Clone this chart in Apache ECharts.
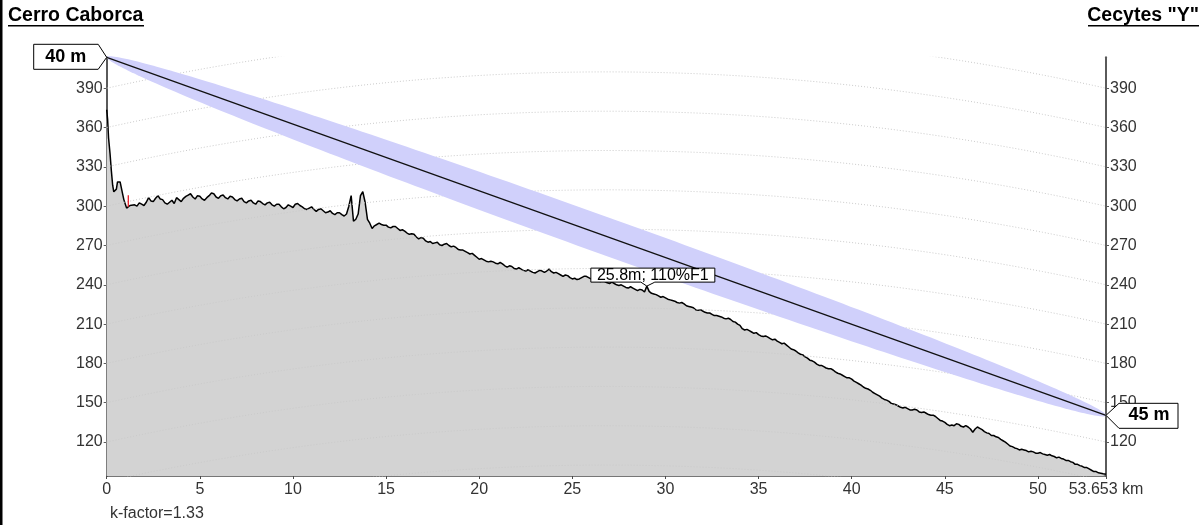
<!DOCTYPE html>
<html>
<head>
<meta charset="utf-8">
<script src="https://cdn.jsdelivr.net/npm/echarts@6/dist/echarts.min.js"></script>
<style>html,body{margin:0;padding:0;background:#fff;}#c{width:1204px;height:525px;}</style>
</head>
<body>
<div id="c"></div>
<script>
// ---------- data ----------
const siteLeft = 'Cerro Caborca';
const siteRight = 'Cecytes "Y"';
const kFactorText = 'k-factor=1.33';
const kFactor = 1.33;
const earthRadiusKm = 6371;
const pathKm = 53.653;
const txAntenna = 40;   // m
const rxAntenna = 45;   // m
const yMin = 94.1;
const yTickValues = [120, 150, 180, 210, 240, 270, 300, 330, 360, 390];
const gridCurveValues = [60, 90, 120, 150, 180, 210, 240, 270, 300, 330, 360, 390];
const xTickValues = [0, 5, 10, 15, 20, 25, 30, 35, 40, 45, 50, 53.653];
const fresnelHalfMid = 15; // m, half width of drawn Fresnel band at mid path
const clearanceText = '25.8m; 110%F1';
const clearancePoint = [29.0, 239];
const redMark = [[1.16, 299.5], [1.16, 308.4]];

// terrain profile: detailed start (km, m), then samples every 0.125 km from 1.5 km, then end point
const profileHead = [
[0,373.6],[0.05,366],[0.1,352],[0.18,340],[0.25,327],[0.32,316],[0.38,311],[0.45,310.5],[0.52,313],[0.58,318.5],
[0.65,320],[0.72,318.5],[0.8,317],[0.86,309],[0.92,305],[1.0,301.5],[1.07,298.5],[1.15,299],[1.25,300.5],[1.35,299.5]
];
const profileStartKm = 1.5;
const profileStepKm = 0.125;
const profileValues = [
301, 300, 302.5, 301.5, 300.5, 303, 306.5, 304,
303.5, 306, 308, 305.5, 305, 302.5, 301.5, 303,
304.5, 302, 306.5, 305, 303.5, 306, 307.5, 308.5,
309.5, 307, 305.5, 308, 307.5, 305.5, 304.5, 306.5,
308, 310, 309.5, 307, 306, 308, 308.5, 306.5,
305.5, 307.5, 307, 305, 304, 305.5, 306, 303.5,
302.5, 304, 304.5, 302.5, 301.5, 304, 303.5, 302,
301, 302.5, 303, 301, 300, 301.5, 301.5, 299.5,
298, 299, 301, 300, 299, 301.5, 302, 300.5,
299.5, 298, 297.5, 298.5, 299.5, 297.5, 296, 297.5,
298, 296.5, 295, 295.5, 296.5, 294.5, 293.5, 295,
295, 293.5, 292.5, 294, 300, 308, 288.5, 290,
294, 308, 311, 303, 290, 287, 283, 285,
286, 287, 286, 285.5, 285.5, 284, 283.5, 284.5,
284.5, 283, 281.5, 282, 281, 279.5, 278.5, 279,
278.5, 276.5, 275, 276, 275.5, 273.5, 272.5, 273,
271.5, 272, 272.5, 270.5, 270, 271, 271.5, 270,
269, 269.5, 268.5, 267, 266.5, 266.5, 265.5, 264.5,
263.5, 264, 262.5, 261, 259.5, 260, 259, 258,
257.5, 258, 257.5, 256.5, 256, 257, 256, 254.5,
253.5, 254.5, 254, 252.5, 252, 253, 252, 251,
250.5, 251.5, 250.5, 249.5, 249, 250, 251, 250.5,
249.5, 250.5, 252, 250, 249, 249.5, 248.5, 247.5,
246.5, 247.5, 247, 245.5, 244.5, 245, 244, 244.5,
245.5, 246.5, 246.5, 245.5, 244.5, 245, 244, 243,
242.5, 243.5, 242.5, 241.5, 241, 242, 241, 240,
239.5, 240, 239, 238, 237.5, 238.5, 237.5, 236.5,
235.5, 236.5, 236, 234.5, 239, 235, 233.5, 233,
232.5, 231.5, 230.5, 231, 230, 229, 228.5, 228,
227.5, 226.5, 226, 226.5, 225.5, 224, 223.5, 223,
222.5, 221, 220.5, 221, 220, 219, 218.5, 218.5,
217.5, 216.5, 216.5, 216, 215.5, 214.5, 214, 214.5,
213.5, 212, 211.5, 210, 209, 206.5, 205.5, 206,
205, 204, 203, 203.5, 202, 201, 200.5, 201,
200, 199, 198, 198.5, 197, 196, 195, 195.5,
194, 192.5, 191, 190.5, 189.5, 188, 187, 186.5,
185, 184, 182.5, 182, 181, 179.5, 178.5, 178.5,
177.5, 176.5, 176, 176, 175, 173.5, 172.5, 172,
171, 170, 169, 169, 168, 166.5, 165.5, 164.5,
163.5, 162, 161, 160.5, 159.5, 158, 157, 156,
155, 153.5, 152.5, 152, 151, 149.5, 149, 148.5,
147.5, 146.5, 146, 146.5, 145.5, 144.5, 144.5, 145,
144.5, 143, 142.5, 143, 142, 141, 140.5, 140.5,
139.5, 138, 136.5, 136, 135, 133.5, 132.5, 133,
132.5, 134, 133.5, 132, 131.5, 132.5, 131.5, 130,
127.5, 130, 131.5, 130.5, 129.5, 128, 127, 126.5,
125, 125, 124, 123.5, 122, 121, 120, 118.5,
117, 116.5, 115.5, 115, 114, 114.5, 114, 113.5,
112.5, 113, 112.5, 111.5, 111.5, 112, 111, 110.5,
110, 110.5, 109.5, 109, 108, 108.5, 107.5, 107,
106, 106, 105, 104.5, 103, 103, 102, 101.5,
100.5, 100.5, 99.5, 98.5, 97.5, 97.5, 96.5, 96.2,
95.8
];
const profileEnd = [53.653, 95.4];

// ---------- derived geometry ----------
const profile = profileHead
  .concat(profileValues.map((v, i) => [profileStartKm + i * profileStepKm, v]))
  .concat([profileEnd]);
const groundStart = profile[0][1];
const groundEnd = profile[profile.length - 1][1];
const txTop = groundStart + txAntenna;
const rxTop = groundEnd + rxAntenna;
const yMax = txTop;

function bulge(d) { // earth bulge in m, d in km
  return d * (pathKm - d) * 1000 / (2 * kFactor * earthRadiusKm);
}
const sampleKm = [];
for (let i = 0; i <= 160; i++) {
  const s = i / 160;
  sampleKm.push(pathKm * (1 - Math.cos(Math.PI * s)) / 2);
}
function linkAt(d) { return txTop + (rxTop - txTop) * d / pathKm; }
function fresnelHalf(d) { return fresnelHalfMid * 2 * Math.sqrt(Math.max(0, d * (pathKm - d))) / pathKm; }

const gridSeries = gridCurveValues.map(v => ({
  type: 'line', silent: true, symbol: 'none', z: 3,
  data: sampleKm.map(d => [d, v + bulge(d)]),
  lineStyle: { color: '#cacaca', width: 1, type: [1, 2] }
}));

const font = '"Liberation Sans", Arial, sans-serif';

const chart = echarts.init(document.getElementById('c'), null, { renderer: 'canvas' });
const yAxisBase = {
  type: 'value', min: yMin, max: yMax,
  axisLine: { show: true, lineStyle: { color: '#5a5a5a', width: 2 } },
  axisTick: { show: true, customValues: yTickValues, length: 3, lineStyle: { color: '#5a5a5a' } },
  axisLabel: { customValues: yTickValues, fontSize: 16, color: '#333', fontFamily: font, margin: 4 },
  splitLine: { show: false }
};
const option = {
  animation: false,
  grid: { left: 106.7, right: 98, top: 57.3, bottom: 49 },
  xAxis: {
    type: 'value', min: 0, max: pathKm,
    axisLine: { lineStyle: { color: '#4a4a4a', width: 1.5 } },
    axisTick: { customValues: xTickValues, length: 3, lineStyle: { color: '#4a4a4a' } },
    axisLabel: {
      customValues: xTickValues, fontSize: 16, color: '#333', fontFamily: font, margin: 6,
      formatter: v => (Math.abs(v - pathKm) < 1e-6 ? pathKm + ' km' : String(v))
    },
    splitLine: { show: false }
  },
  yAxis: [
    Object.assign({}, yAxisBase, { position: 'left' }),
    Object.assign({}, yAxisBase, { position: 'right' })
  ],
  series: [
    {
      type: 'line', name: 'terrain', symbol: 'none', z: 2,
      data: profile,
      lineStyle: { color: '#000', width: 1.5 },
      areaStyle: { color: '#d3d3d3', opacity: 1, origin: 'start' }
    },
    ...gridSeries,
    {
      type: 'custom', z: 4, silent: true,
      data: [[0, txTop]],
      renderItem: function (params, api) {
        const upper = sampleKm.map(d => api.coord([d, linkAt(d) + fresnelHalf(d)]));
        const lower = sampleKm.slice().reverse().map(d => api.coord([d, linkAt(d) - fresnelHalf(d)]));
        return { type: 'polygon', shape: { points: upper.concat(lower) }, style: { fill: '#d0d0fb' } };
      }
    },
    {
      type: 'line', symbol: 'none', z: 5, silent: true,
      data: [[0, txTop], [pathKm, rxTop]],
      lineStyle: { color: '#111', width: 1.3 }
    },
    {
      type: 'line', symbol: 'none', z: 5, silent: true,
      data: redMark,
      lineStyle: { color: '#e8202a', width: 1.3 }
    }
  ]
};
chart.setOption(option);

// ---------- callouts & texts ----------
const pTx = chart.convertToPixel({ gridIndex: 0 }, [0, txTop]);
const pRx = chart.convertToPixel({ gridIndex: 0 }, [pathKm, rxTop]);
const pCl = chart.convertToPixel({ gridIndex: 0 }, clearancePoint);
const boxStyle = { fill: '#fff', stroke: '#000', lineWidth: 1 };

chart.setOption({ graphic: [
  { type: 'rect', shape: { x: 0, y: 0, width: 2.5, height: 525 }, style: { fill: '#000' } },
  { type: 'text', left: 8, top: 6, style: { text: siteLeft, font: 'bold 19.5px ' + font, fill: '#000' } },
  { type: 'text', right: 5, top: 6, style: { text: siteRight, font: 'bold 19.5px ' + font, fill: '#000' } },
  { type: 'rect', shape: { x: 8, y: 25, width: 136, height: 1.5 }, style: { fill: '#000' } },
  { type: 'rect', shape: { x: 1088, y: 25, width: 111, height: 1.5 }, style: { fill: '#000' } },
  { type: 'text', left: 110, top: 506, style: { text: kFactorText, font: '16px ' + font, fill: '#333' } },
  {
    type: 'polygon', z: 100,
    shape: { points: [[pTx[0], pTx[1]], [pTx[0] - 8.5, pTx[1] - 13], [pTx[0] - 73, pTx[1] - 13], [pTx[0] - 73, pTx[1] + 12], [pTx[0] - 8.5, pTx[1] + 12]] },
    style: boxStyle
  },
  { type: 'text', z: 101, x: pTx[0] - 41, y: pTx[1], style: { text: txAntenna + ' m', font: 'bold 18px ' + font, fill: '#000', align: 'center', verticalAlign: 'middle' } },
  {
    type: 'polygon', z: 100,
    shape: { points: [[pRx[0], pRx[1]], [pRx[0] + 13, pRx[1] - 12], [pRx[0] + 72, pRx[1] - 12], [pRx[0] + 72, pRx[1] + 13], [pRx[0] + 13, pRx[1] + 13]] },
    style: boxStyle
  },
  { type: 'text', z: 101, x: pRx[0] + 43, y: pRx[1], style: { text: rxAntenna + ' m', font: 'bold 18px ' + font, fill: '#000', align: 'center', verticalAlign: 'middle' } },
  {
    type: 'polygon', z: 100,
    shape: { points: [[pCl[0] - 56, pCl[1] - 18], [pCl[0] + 68, pCl[1] - 18], [pCl[0] + 68, pCl[1] - 4], [pCl[0] + 8, pCl[1] - 4], [pCl[0], pCl[1]], [pCl[0] - 6, pCl[1] - 4], [pCl[0] - 56, pCl[1] - 4]] },
    style: boxStyle
  },
  { type: 'text', z: 101, x: pCl[0] + 6, y: pCl[1] - 11, style: { text: clearanceText, font: '16px ' + font, fill: '#000', align: 'center', verticalAlign: 'middle' } }
] });
</script>
</body>
</html>
